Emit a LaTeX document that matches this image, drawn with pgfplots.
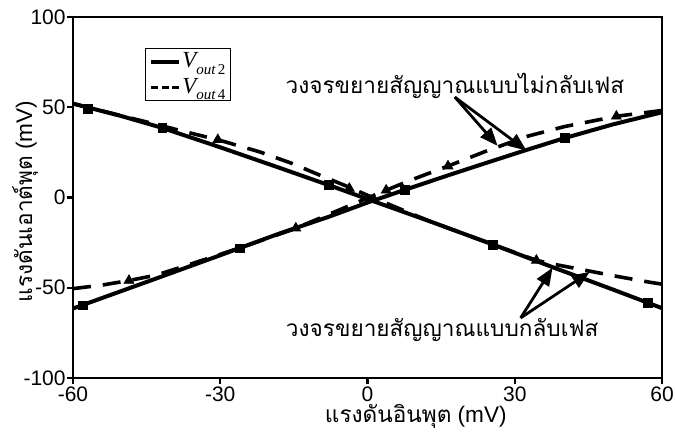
\documentclass[border=0pt]{standalone}
\usepackage{fontspec}
\setmainfont{Liberation Sans}
\newfontfamily\thai[Script=Thai]{Loma}
\newfontfamily\tms{Liberation Serif}
\usepackage{pgfplots}
\pgfplotsset{compat=1.18}
\usetikzlibrary{arrows.meta}

\pgfplotstableread{
x y
-60 -61.5
-45 -46.8
-30 -32.0
-18 -20.0
-8 -10.8
0 -2.8
8 4.6
16 11.9
24 19.0
32 26.0
40 32.8
50 40.5
60 47.2
}\sinc
\pgfplotstableread{
x y
-60 52.0
-50 45.0
-42 38.7
-30 27.8
-18 16.5
-7 6.0
0 -0.9
12.7 -13.2
25.6 -26.1
37.7 -38.6
50 -51.0
60 -61.3
}\sdec
\pgfplotstableread{
x y
-60 -50.5
-54 -48.5
-48.6 -46.0
-43 -43.0
-35 -36.0
-25 -27.0
-15 -17.5
-8 -9.5
0 -0.3
8.6 9.4
16.4 17.4
24 25.5
32.4 33.8
40 39.2
50.7 45.0
60 48.2
}\dinc
\pgfplotstableread{
x y
-60 52.0
-50 45.2
-42 39.8
-37.3 36.5
-30.5 32.0
-22 25.3
-15.5 19.0
-9.4 12.0
-4 6.0
0 1.2
5 -4.5
12.7 -13.2
25.6 -26.1
34.4 -34.8
38 -37.0
43 -39.6
50.4 -43.5
57.6 -47.0
60 -48.0
}\ddec

\begin{document}
\begin{tikzpicture}
\begin{axis}[
  at={(0,0)}, anchor=south west,
  scale only axis, width=294.5pt, height=180.5pt,
  xmin=-60, xmax=60, ymin=-100, ymax=100,
  xtick={-60,-30,0,30,60}, ytick={-100,-50,0,50,100},
  tick pos=left,
  axis line style={line width=1.4pt},
  tick style={line width=1.2pt, black},
  major tick length=3pt,
  tick align=outside,
  /pgf/number format/assume math mode=true,
  tick label style={font=\fontsize{10.5}{12}\selectfont},
  yticklabel style={inner xsep=0.5pt},
  xticklabel style={inner ysep=1pt},
  xlabel={{\thai แรงดันอินพุต} (mV)},
  ylabel={{\thai แรงดันเอาต์พุต} (mV)},
  label style={font=\fontsize{11.3}{12}\selectfont},
  xlabel style={at={(axis description cs:0.582,-0.123)}, anchor=base},
  ylabel style={at={(axis description cs:-0.0696,0.489)}, anchor=base},
  legend style={at={(rel axis cs:0.122,0.914)}, anchor=north west, draw=black, line width=0.6pt,
    inner xsep=2pt, inner ysep=1.5pt, row sep=2.5pt, font=\fontsize{11.5}{12.5}\selectfont,
    nodes={inner sep=0.6pt}},
  legend cell align=left,
]
\addplot[black, line width=2pt,
  legend image code/.code={\draw[black, line width=1.8pt] (0pt,0pt) -- (14pt,0pt);}] table {\sinc};
\addlegendentry{{\tms\itshape V\raisebox{-0.6ex}{\fontsize{7.5}{8}\selectfont out\,\upshape 2}}}
\addplot[black, line width=1.8pt, dash pattern=on 9pt off 6pt,
  legend image code/.code={\draw[black, line width=1.8pt, dash pattern=on 3.6pt off 1.6pt] (0pt,0pt) -- (14pt,0pt);}] table {\dinc};
\addlegendentry{{\tms\itshape V\raisebox{-0.6ex}{\fontsize{7.5}{8}\selectfont out\,\upshape 4}}}
\addplot[black, line width=2pt, forget plot] table {\sdec};
\addplot[black, line width=1.8pt, dash pattern=on 9pt off 6pt, forget plot] table {\ddec};
\addplot[only marks, mark=square*, mark size=2.2pt, black, forget plot] coordinates {
(-58,-59.8) (-26,-28.2) (7.6,4.0) (40.2,33.0)
(-57,49.2) (-41.8,38.7) (-7.8,6.8) (25.6,-26.1) (57.2,-58.5)};
\addplot[only marks, mark=triangle*, mark size=2.8pt, black, forget plot] coordinates {
(-48.6,-46.0) (-14.6,-17.0) (3.8,4.0) (16.4,17.4) (50.7,45.0)
(-30.5,32.0) (-3.7,5.0) (34.4,-34.8)};
\draw[line width=1.4pt, -{Triangle[length=9pt,width=7pt]}] (axis cs:17.8,55.6) -- (axis cs:26.5,28.6);
\draw[line width=1.4pt, -{Triangle[length=9pt,width=7pt]}] (axis cs:17.8,55.6) -- (axis cs:32.4,26.0);
\draw[line width=1.4pt, -{Triangle[length=9pt,width=7pt]}] (axis cs:31.2,-66.7) -- (axis cs:37.7,-38.9);
\draw[line width=1.4pt, -{Triangle[length=9pt,width=7pt]}] (axis cs:31.2,-66.7) -- (axis cs:45.3,-41.2);
\node[font=\thai\fontsize{11.3}{12}\selectfont, anchor=base] at (axis cs:17.8,57.8) {วงจรขยายสัญญาณแบบไม่กลับเฟส};
\node[font=\thai\fontsize{11.3}{12}\selectfont, anchor=base] at (axis cs:15.2,-77) {วงจรขยายสัญญาณแบบกลับเฟส};
\end{axis}
\pgfresetboundingbox
\path[use as bounding box] (-36.5pt,-27pt) rectangle (301pt,189pt);
\end{tikzpicture}
\end{document}
